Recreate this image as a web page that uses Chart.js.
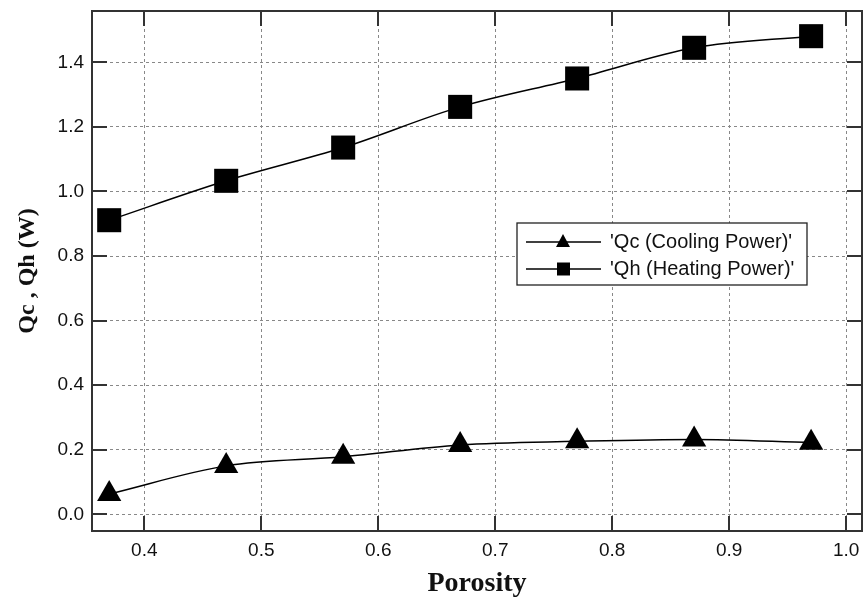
<!DOCTYPE html>
<html>
<head>
<meta charset="utf-8">
<script src="https://cdn.jsdelivr.net/npm/chart.js@4.4.1/dist/chart.umd.min.js"></script>
<style>
    html, body { margin: 0; padding: 0; background: #fff; }
    #wrap { width: 863px; height: 601px; }
</style>
</head>
<body>
<div id="wrap"><canvas id="chart" width="863" height="601"></canvas></div>
<script>
// Data
const porosity = [0.37, 0.47, 0.57, 0.67, 0.77, 0.87, 0.97];
const qcValues = [0.063, 0.15, 0.178, 0.215, 0.226, 0.232, 0.222];
const qhValues = [0.911, 1.033, 1.136, 1.262, 1.35, 1.445, 1.481];
const legendLabels = ["'Qc (Cooling Power)'", "'Qh (Heating Power)'"];

const xMin = 0.3553, xMax = 1.0135;
const yMin = -0.0517, yMax = 1.559;

function toPoints(xs, ys) {
    return xs.map((x, i) => ({ x: x, y: ys[i] }));
}

// Box around the plot with inward tick marks on all four sides
const framePlugin = {
    id: 'frame',
    afterDatasetsDraw(chart) {
        const ctx = chart.ctx;
        const a = chart.chartArea;
        const xs = chart.scales.x;
        const ys = chart.scales.y;
        const len = 15;
        ctx.save();
        ctx.strokeStyle = '#333';
        ctx.lineWidth = 2;
        ctx.beginPath();
        xs.ticks.forEach(t => {
            const px = Math.round(xs.getPixelForValue(t.value));
            ctx.moveTo(px, a.bottom);
            ctx.lineTo(px, a.bottom - len);
            ctx.moveTo(px, a.top);
            ctx.lineTo(px, a.top + len);
        });
        ys.ticks.forEach(t => {
            const py = Math.round(ys.getPixelForValue(t.value));
            ctx.moveTo(a.left, py);
            ctx.lineTo(a.left + len, py);
            ctx.moveTo(a.right, py);
            ctx.lineTo(a.right - len, py);
        });
        ctx.stroke();
        ctx.strokeRect(a.left, a.top, a.right - a.left, a.bottom - a.top);
        ctx.restore();
    }
};

// Legend box inside the plot
const boxLegend = {
    id: 'boxLegend',
    afterDraw(chart) {
        const ctx = chart.ctx;
        const bx = 517, by = 223, bw = 290, bh = 62;
        ctx.save();
        ctx.fillStyle = '#fff';
        ctx.fillRect(bx, by, bw, bh);
        ctx.strokeStyle = '#222';
        ctx.lineWidth = 1.3;
        ctx.strokeRect(bx, by, bw, bh);
        const rows = [by + 19, by + 46];
        rows.forEach((ry, i) => {
            ctx.strokeStyle = '#000';
            ctx.lineWidth = 1.5;
            ctx.beginPath();
            ctx.moveTo(526, ry);
            ctx.lineTo(601, ry);
            ctx.stroke();
            ctx.fillStyle = '#000';
            ctx.beginPath();
            if (i === 0) {
                ctx.moveTo(563, ry - 8);
                ctx.lineTo(570, ry + 5);
                ctx.lineTo(556, ry + 5);
                ctx.closePath();
            } else {
                ctx.rect(557, ry - 6.5, 13, 13);
            }
            ctx.fill();
            ctx.fillStyle = '#111';
            ctx.font = '20px "Liberation Sans", Arial, sans-serif';
            ctx.textBaseline = 'middle';
            ctx.fillText(legendLabels[i], 610, ry);
        });
        ctx.restore();
    }
};

const ctx = document.getElementById('chart').getContext('2d');
const chart = new Chart(ctx, {
    type: 'line',
    data: {
        datasets: [
            {
                label: legendLabels[0],
                data: toPoints(porosity, qcValues),
                borderColor: '#000',
                backgroundColor: '#000',
                borderWidth: 1.5,
                pointStyle: 'triangle',
                pointRadius: 14,
                pointBorderWidth: 0,
                cubicInterpolationMode: 'monotone',
                clip: false
            },
            {
                label: legendLabels[1],
                data: toPoints(porosity, qhValues),
                borderColor: '#000',
                backgroundColor: '#000',
                borderWidth: 1.5,
                pointStyle: 'rect',
                pointRadius: 17,
                pointBorderWidth: 0,
                cubicInterpolationMode: 'monotone',
                clip: false
            }
        ]
    },
    options: {
        responsive: false,
        animation: false,
        devicePixelRatio: 1,
        layout: { autoPadding: false, padding: { left: 0, right: 1, top: 11, bottom: 0 } },
        plugins: {
            legend: { display: false },
            tooltip: { enabled: false }
        },
        scales: {
            x: {
                type: 'linear',
                position: 'bottom',
                min: xMin,
                max: xMax,
                afterFit: s => { s.height = 70; s.paddingLeft = 0; s.paddingRight = 0; },
                ticks: {
                    stepSize: 0.1,
                    includeBounds: false,
                    padding: 8,
                    color: '#111',
                    font: { family: '"Liberation Sans", Arial, sans-serif', size: 19 },
                    callback: v => Number(v).toFixed(1)
                },
                grid: { color: '#888', lineWidth: 1, drawTicks: false },
                border: { display: false, dash: [3, 3] },
                title: {
                    display: true,
                    text: 'Porosity',
                    color: '#111',
                    padding: { top: 0, bottom: 0 },
                    font: { family: '"Liberation Serif", "Times New Roman", serif', size: 28, weight: 'bold' }
                }
            },
            y: {
                type: 'linear',
                min: yMin,
                max: yMax,
                afterFit: s => { s.width = 92; s.paddingTop = 0; s.paddingBottom = 0; },
                ticks: {
                    stepSize: 0.2,
                    includeBounds: false,
                    padding: 8,
                    color: '#111',
                    font: { family: '"Liberation Sans", Arial, sans-serif', size: 19 },
                    callback: v => Number(v).toFixed(1)
                },
                grid: { color: '#888', lineWidth: 1, drawTicks: false },
                border: { display: false, dash: [3, 3] },
                title: {
                    display: true,
                    text: 'Qc , Qh (W)',
                    color: '#111',
                    padding: { top: 13, bottom: 0 },
                    font: { family: '"Liberation Serif", "Times New Roman", serif', size: 24, weight: 'bold' }
                }
            }
        }
    },
    plugins: [framePlugin, boxLegend]
});
</script>
</body>
</html>
